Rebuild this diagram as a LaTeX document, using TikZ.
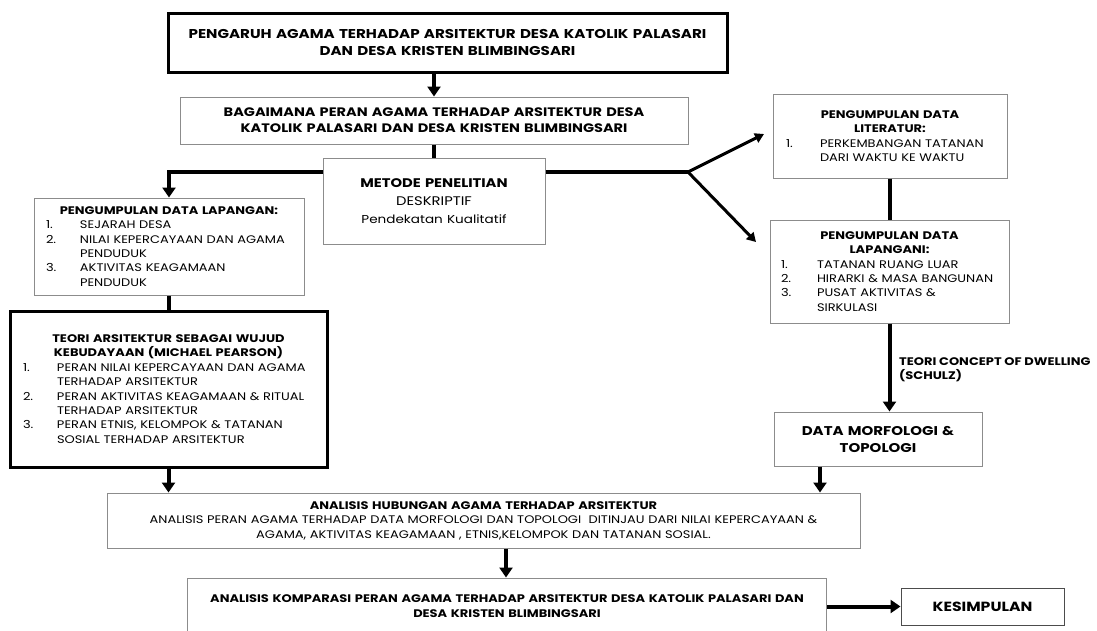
\documentclass[tikz,border=0pt]{standalone}
\usepackage{fontspec}
\setmainfont{Poppins}[FakeStretch=1.18]
\usetikzlibrary{arrows.meta}
\newcommand{\normaltxt}{\fontsize{11}{14.4}\selectfont}
\newcommand{\numitem}[3][34pt]{\makebox[\hsize][l]{\makebox[#1][l]{#2}#3}}
\tikzstyle{box}=[draw=black!45, line width=1pt, inner sep=0pt, align=center, font=\normaltxt]
\tikzstyle{boldbox}=[box, draw=black, line width=3pt]
\tikzstyle{link}=[draw=black, line width=4pt]
\tikzstyle{arrow}=[link, -{Triangle[length=10pt,width=13pt]}]
\tikzstyle{thinarrow}=[draw=black, line width=3pt, -{Triangle[length=9pt,width=10pt]}]

\begin{document}
\begin{tikzpicture}[x=1pt, y=-1pt]
		   \useasboundingbox (0,0) rectangle (1097,630);
		   \clip (0,0) rectangle (1097,630);
		   \begin{scope}
			   \node (judul) at (447.5, 42.5)[boldbox, minimum width=559, minimum height=59, text width=545,
			     font=\fontsize{12.8}{17}\selectfont\bfseries]
			     {PENGARUH AGAMA TERHADAP ARSITEKTUR DESA KATOLIK PALASARI\\DAN DESA KRISTEN BLIMBINGSARI};
			   \node (rumusan) at (434, 120.5)[box, minimum width=508, minimum height=47, text width=495,
			     font=\fontsize{12.3}{16}\selectfont\bfseries]
			     {BAGAIMANA PERAN AGAMA TERHADAP ARSITEKTUR DESA\\KATOLIK PALASARI DAN DESA KRISTEN BLIMBINGSARI};
			   \node (metode) at (434, 201)[box, minimum width=222, minimum height=86, text width=215,
			     font=\fontsize{12.5}{18}\selectfont]
			     {\textbf{METODE PENELITIAN}\\
			      DESKRIPTIF\\
			      {\fontsize{11.5}{18}\selectfont Pendekatan Kualitatif}};

			   \node (lapL) at (169, 246.5)[box, minimum width=270, minimum height=97, text width=246]
			     {\textbf{PENGUMPULAN DATA LAPANGAN:}\\
			      \numitem{1.}{SEJARAH DESA}\\
			      \numitem{2.}{NILAI KEPERCAYAAN DAN AGAMA}\\
			      \numitem{}{PENDUDUK}\\
			      \numitem{3.}{AKTIVITAS KEAGAMAAN}\\
			      \numitem{}{PENDUDUK}};
			   \node (teori) at (168.5, 389)[boldbox, minimum width=317, minimum height=156, text width=291]
			     {\textbf{TEORI ARSITEKTUR SEBAGAI WUJUD}\\
			      \textbf{KEBUDAYAAN (MICHAEL PEARSON)}\\
			      \numitem{1.}{PERAN NILAI KEPERCAYAAN DAN AGAMA}\\
			      \numitem{}{TERHADAP ARSITEKTUR}\\
			      \numitem{2.}{PERAN AKTIVITAS KEAGAMAAN \& RITUAL}\\
			      \numitem{}{TERHADAP ARSITEKTUR}\\
			      \numitem{3.}{PERAN ETNIS, KELOMPOK \& TATANAN}\\
			      \numitem{}{SOSIAL TERHADAP ARSITEKTUR}};

			   \node (literatur) at (890, 136)[box, minimum width=234, minimum height=84, text width=208]
			     {\textbf{PENGUMPULAN DATA}\\
			      \textbf{LITERATUR:}\\
			      \numitem{1.}{PERKEMBANGAN TATANAN}\\
			      \numitem{}{DARI WAKTU KE WAKTU}};
			   \node (lapR) at (889.5, 271.5)[box, minimum width=239, minimum height=103, text width=217]
			     {\textbf{PENGUMPULAN DATA}\\
			      \textbf{LAPANGANI:}\\
			      \numitem[36pt]{1.}{TATANAN RUANG LUAR}\\
			      \numitem[36pt]{2.}{HIRARKI \& MASA BANGUNAN}\\
			      \numitem[36pt]{3.}{PUSAT AKTIVITAS \&}\\
			      \numitem[36pt]{}{SIRKULASI}};
			   \node (morfologi) at (878, 439)[box, minimum width=208, minimum height=54, text width=200,
			     font=\fontsize{12.7}{17}\selectfont\bfseries]
			     {DATA MORFOLOGI \&\\TOPOLOGI};

			   \node (analisis) at (483.5, 520.5)[box, minimum width=753, minimum height=55, text width=740]
			     {\textbf{ANALISIS HUBUNGAN AGAMA TERHADAP ARSITEKTUR}\\
			      ANALISIS PERAN AGAMA TERHADAP DATA MORFOLOGI DAN TOPOLOGI \ DITINJAU DARI NILAI KEPERCAYAAN \&\\
			      AGAMA, AKTIVITAS KEAGAMAAN , ETNIS,KELOMPOK DAN TATANAN SOSIAL.};
			   \node (komparasi) at (507, 606)[box, minimum width=639, minimum height=56, text width=625,
			     font=\normaltxt\bfseries]
			     {ANALISIS KOMPARASI PERAN AGAMA TERHADAP ARSITEKTUR DESA KATOLIK PALASARI DAN\\DESA KRISTEN BLIMBINGSARI};
			   \node (kesimpulan) at (982.5, 606.5)[box, draw=black!70, minimum width=163, minimum height=37,
			     font=\fontsize{13.3}{18}\selectfont\bfseries] {KESIMPULAN};

			   \node (dwelling) at (899, 370)[anchor=west, align=left, inner sep=0pt, font=\normaltxt\bfseries]
			     {TEORI CONCEPT OF DWELLING\\(SCHULZ)};

			   \coordinate (poros) at (434, 0);
			   \coordinate (kiri) at (168, 172);
			   \coordinate (cabang) at (688, 172);
			   \coordinate (ujungA) at (764, 134);
			   \coordinate (ujungB) at (756, 242);
			   \coordinate (turunR) at (820, 0);
			   \coordinate (turunA) at (506, 0);
		   \end{scope}
		   \begin{scope}
			   \draw [arrow] (judul.south -| poros) -- (rumusan.north -| poros);
			   \draw [link] (rumusan.south -| poros) -- (metode.north -| poros);
			   \draw [arrow] (metode.west |- kiri) -| (lapL.north);
			   \draw [link] (lapL.south) -- (lapL.south |- teori.north);
			   \draw [arrow] (teori.south) -- (teori.south |- analisis.north);

			   \draw [link] (metode.east |- cabang) -- (cabang);
			   \draw [thinarrow] (cabang) -- (ujungA);
			   \draw [thinarrow] (cabang) -- (ujungB);
			   \draw [link] (literatur.south) -- (literatur.south |- lapR.north);
			   \draw [arrow] (lapR.south) -- (lapR.south |- morfologi.north);

			   \draw [arrow] (morfologi.south -| turunR) -- (analisis.north -| turunR);
			   \draw [arrow] (analisis.south -| turunA) -- (komparasi.north -| turunA);
			   \draw [arrow] (komparasi.east |- kesimpulan.west) -- (kesimpulan.west);
		   \end{scope}
	   \end{tikzpicture}
\end{document}
